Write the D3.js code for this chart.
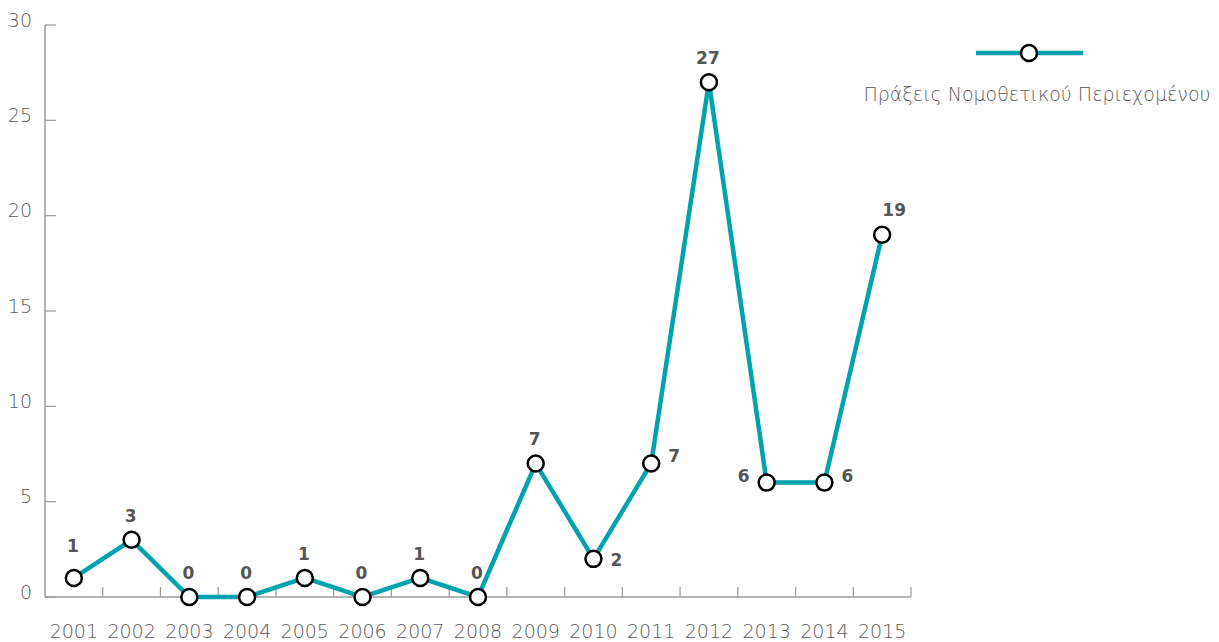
<!DOCTYPE html>
<html>
<head>
<meta charset="utf-8">
<script src="https://cdn.jsdelivr.net/npm/d3@7"></script>
<style>
  body { margin: 0; background: #fff; }
  svg { font-family: "DejaVu Sans", sans-serif; }
</style>
</head>
<body>
<svg id="chart" width="1219" height="642"></svg>
<script>
// values
var years = ["2001", "2002", "2003", "2004", "2005", "2006", "2007", "2008",
             "2009", "2010", "2011", "2012", "2013", "2014", "2015"];
var counts = [1, 3, 0, 0, 1, 0, 1, 0, 7, 2, 7, 27, 6, 6, 19];
var yTicks = [0, 5, 10, 15, 20, 25, 30];
var seriesName = "Πράξεις Νομοθετικού Περιεχομένου";
// where each value label sits relative to its point
var labelPos = ["tophigh", "top", "top", "top", "top", "top", "top", "top",
                "top", "rightlow", "right", "top", "left", "right", "topright"];

var svg = d3.select("#chart");
var teal = "#00a3ad";
var axisGrey = "#9a9a9a";
var textGrey = "#5a5a5a";

var x = d3.scaleBand().domain(years).range([45, 911]);
var y = d3.scaleLinear().domain([0, 30]).range([597, 25]);

// y axis
var gy = svg.append("g");
gy.append("line")
  .attr("x1", 45).attr("x2", 45)
  .attr("y1", y(30)).attr("y2", y(0))
  .attr("stroke", axisGrey).attr("stroke-width", 1.5);
gy.selectAll("line.tick")
  .data(yTicks)
  .enter().append("line")
  .attr("class", "tick")
  .attr("x1", 45).attr("x2", 56)
  .attr("y1", function (d) { return y(d); })
  .attr("y2", function (d) { return y(d); })
  .attr("stroke", axisGrey).attr("stroke-width", 1.2);
gy.selectAll("text")
  .data(yTicks)
  .enter().append("text")
  .attr("x", 32)
  .attr("y", function (d) { return y(d) - 5; })
  .attr("dy", "0.35em")
  .attr("text-anchor", "end")
  .attr("fill", textGrey)
  .attr("font-size", 19)
  .attr("font-weight", 200)
  .text(function (d) { return d; });

// x axis
var gx = svg.append("g");
gx.append("line")
  .attr("x1", 45).attr("x2", 911)
  .attr("y1", y(0)).attr("y2", y(0))
  .attr("stroke", axisGrey).attr("stroke-width", 1.5);
gx.selectAll("line.tick")
  .data(years.slice(1).concat(["end"]))
  .enter().append("line")
  .attr("class", "tick")
  .attr("x1", function (d) { return d === "end" ? 911 : x(d); })
  .attr("x2", function (d) { return d === "end" ? 911 : x(d); })
  .attr("y1", y(0)).attr("y2", y(0) - 10)
  .attr("stroke", axisGrey).attr("stroke-width", 1.2);
gx.selectAll("text")
  .data(years)
  .enter().append("text")
  .attr("x", function (d) { return x(d) + x.bandwidth() / 2; })
  .attr("y", 631)
  .attr("dy", "0.35em")
  .attr("text-anchor", "middle")
  .attr("fill", textGrey)
  .attr("font-size", 19)
  .attr("font-weight", 200)
  .text(function (d) { return d; });

// line
var cx = function (d, i) { return x(years[i]) + x.bandwidth() / 2; };
var line = d3.line()
  .x(cx)
  .y(function (d) { return y(d); });

svg.append("path")
  .datum(counts)
  .attr("d", line)
  .attr("fill", "none")
  .attr("stroke", teal)
  .attr("stroke-width", 4.5)
  .attr("stroke-linejoin", "miter");

svg.selectAll("circle.pt")
  .data(counts)
  .enter().append("circle")
  .attr("class", "pt")
  .attr("cx", cx)
  .attr("cy", function (d) { return y(d); })
  .attr("r", 8)
  .attr("fill", "#fff")
  .attr("stroke", "#000")
  .attr("stroke-width", 2.5);

// value labels
svg.selectAll("text.val")
  .data(counts)
  .enter().append("text")
  .attr("class", "val")
  .attr("x", function (d, i) {
    var p = labelPos[i];
    if (p === "right" || p === "rightlow") return cx(d, i) + 17;
    if (p === "left") return cx(d, i) - 17;
    if (p === "topright") return cx(d, i) + 12;
    return cx(d, i) - 1;
  })
  .attr("y", function (d, i) {
    var p = labelPos[i];
    if (p === "rightlow") return y(d) + 1;
    if (p === "right" || p === "left") return y(d) - 7;
    if (p === "topright") return y(d) - 25;
    if (p === "tophigh") return y(d) - 32;
    return y(d) - 24;
  })
  .attr("dy", "0.35em")
  .attr("text-anchor", function (d, i) {
    var p = labelPos[i];
    if (p === "right" || p === "rightlow") return "start";
    if (p === "left") return "end";
    return "middle";
  })
  .attr("fill", "#555")
  .attr("font-size", 17)
  .attr("font-weight", "bold")
  .text(function (d) { return d; });

// legend
var lg = svg.append("g");
lg.append("line")
  .attr("x1", 976).attr("x2", 1083)
  .attr("y1", 53).attr("y2", 53)
  .attr("stroke", teal).attr("stroke-width", 4.5);
lg.append("circle")
  .attr("cx", 1029).attr("cy", 53).attr("r", 8)
  .attr("fill", "#fff").attr("stroke", "#000").attr("stroke-width", 2.5);
lg.append("text")
  .attr("x", 1037).attr("y", 94)
  .attr("dy", "0.35em")
  .attr("text-anchor", "middle")
  .attr("fill", textGrey)
  .attr("font-size", 19)
  .attr("font-weight", 200)
  .text(seriesName);
</script>
</body>
</html>
